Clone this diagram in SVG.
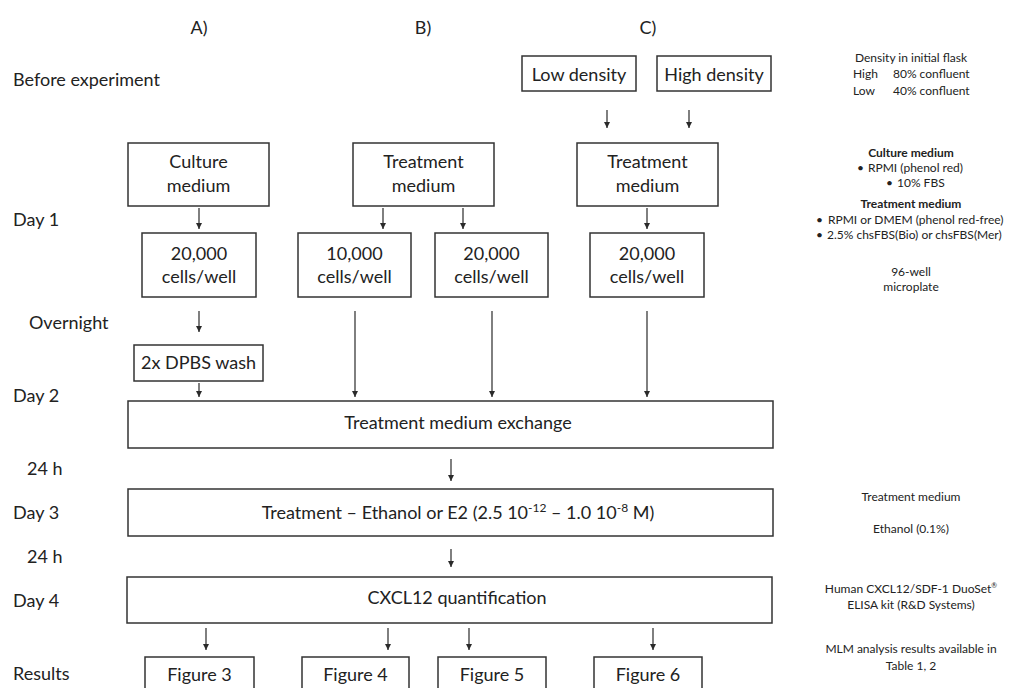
<svg xmlns="http://www.w3.org/2000/svg" width="1009" height="688" viewBox="0 0 1009 688">
<defs>
<marker id="ah" markerUnits="userSpaceOnUse" markerWidth="6" markerHeight="7" refX="6" refY="3" orient="auto">
<path d="M0,0 L6,3 L0,6 z" fill="#2a2a2a"/>
</marker>
<style>
text{font-family:Lato,"Liberation Sans",sans-serif;fill:#222;}
.m{font-size:18px;}
.c{text-anchor:middle;}
.n{font-size:12px;}
.b{font-weight:bold;}
rect{fill:#fff;stroke:#333;stroke-width:1.5;}
#connectors line{stroke:#2a2a2a;stroke-width:1.2;marker-end:url(#ah);}
</style>
</defs>
<rect x="0" y="0" width="1009" height="688" style="fill:#fff;stroke:none"/>

<g id="labels">
<text class="m c" x="199" y="34">A)</text>
<text class="m c" x="423" y="34">B)</text>
<text class="m c" x="648" y="34">C)</text>
<text class="m" x="13" y="86">Before experiment</text>
<text class="m" x="13" y="226">Day 1</text>
<text class="m" x="29" y="329">Overnight</text>
<text class="m" x="13" y="402">Day 2</text>
<text class="m" x="27" y="475">24 h</text>
<text class="m" x="13" y="519">Day 3</text>
<text class="m" x="27" y="563">24 h</text>
<text class="m" x="13" y="607">Day 4</text>
<text class="m" x="13" y="680">Results</text>
</g>

<g id="low-density"><rect x="522" y="56" width="114" height="35"/><text class="m c" x="579" y="81">Low density</text></g>
<g id="high-density"><rect x="657" y="56" width="114" height="35"/><text class="m c" x="714" y="81">High density</text></g>

<g id="culture-medium-a"><rect x="128" y="143" width="141" height="63"/><text class="m c" x="198.5" y="168">Culture</text><text class="m c" x="198.5" y="192">medium</text></g>
<g id="treatment-medium-b"><rect x="353" y="143" width="141" height="63"/><text class="m c" x="423.5" y="168">Treatment</text><text class="m c" x="423.5" y="192">medium</text></g>
<g id="treatment-medium-c"><rect x="577" y="143" width="141" height="63"/><text class="m c" x="647.5" y="168">Treatment</text><text class="m c" x="647.5" y="192">medium</text></g>

<g id="cells-a"><rect x="142" y="233" width="114" height="64"/><text class="m c" x="199" y="260">20,000</text><text class="m c" x="199" y="283">cells/well</text></g>
<g id="cells-b1"><rect x="298" y="233" width="113" height="64"/><text class="m c" x="354.5" y="260">10,000</text><text class="m c" x="354.5" y="283">cells/well</text></g>
<g id="cells-b2"><rect x="435" y="233" width="113" height="64"/><text class="m c" x="491.5" y="260">20,000</text><text class="m c" x="491.5" y="283">cells/well</text></g>
<g id="cells-c"><rect x="590" y="233" width="114" height="64"/><text class="m c" x="647" y="260">20,000</text><text class="m c" x="647" y="283">cells/well</text></g>

<g id="dpbs-wash"><rect x="134" y="345" width="129" height="36"/><text class="m c" x="198.5" y="369">2x DPBS wash</text></g>

<g id="medium-exchange"><rect x="128" y="401" width="645" height="47"/><text class="m c" x="458" y="429">Treatment medium exchange</text></g>
<g id="treatment"><rect x="128" y="489" width="645" height="47"/><text class="m c" x="458" y="519">Treatment – Ethanol or E2 (2.5 10<tspan font-size="12" dy="-7">-12</tspan><tspan dy="7"> – 1.0 10</tspan><tspan font-size="12" dy="-7">-8</tspan><tspan dy="7"> M)</tspan></text></g>
<g id="cxcl12-quantification"><rect x="127" y="577" width="645" height="46"/><text class="m c" x="457" y="604">CXCL12 quantification</text></g>

<g id="figure-3"><rect x="145" y="657" width="109" height="40"/><text class="m c" x="199.5" y="681">Figure 3</text></g>
<g id="figure-4"><rect x="302" y="657" width="107" height="40"/><text class="m c" x="355.5" y="681">Figure 4</text></g>
<g id="figure-5"><rect x="438" y="657" width="108" height="40"/><text class="m c" x="492" y="681">Figure 5</text></g>
<g id="figure-6"><rect x="594" y="657" width="108" height="40"/><text class="m c" x="648" y="681">Figure 6</text></g>

<g id="notes">
<text class="n c" x="911" y="62">Density in initial flask</text>
<text class="n" x="853" y="78">High</text><text class="n" x="893" y="78">80% confluent</text>
<text class="n" x="853" y="95">Low</text><text class="n" x="893" y="95">40% confluent</text>
<text class="n c b" x="911" y="157">Culture medium</text>
<text class="n" x="857" y="172">•</text><text class="n" x="868" y="172">RPMI (phenol red)</text>
<text class="n" x="886" y="187">•</text><text class="n" x="897" y="187">10% FBS</text>
<text class="n c b" x="911" y="208">Treatment medium</text>
<text class="n" x="816" y="224">•</text><text class="n" x="828" y="224">RPMI or DMEM (phenol red-free)</text>
<text class="n" x="816" y="239">•</text><text class="n" x="827" y="239">2.5% chsFBS(Bio) or chsFBS(Mer)</text>
<text class="n c" x="911" y="276">96-well</text>
<text class="n c" x="911" y="291">microplate</text>
<text class="n c" x="911" y="501">Treatment medium</text>
<text class="n c" x="911" y="533">Ethanol (0.1%)</text>
<text class="n c" x="911" y="593">Human CXCL12/SDF-1 DuoSet<tspan font-size="7" dy="-5">®</tspan></text>
<text class="n c" x="911" y="609">ELISA kit (R&amp;D Systems)</text>
<text class="n c" x="911" y="653">MLM analysis results available in</text>
<text class="n c" x="911" y="670">Table 1, 2</text>
</g>

<g id="connectors">
<line x1="607" y1="110" x2="607" y2="128"/>
<line x1="689" y1="110" x2="689" y2="128"/>
<line x1="199" y1="208" x2="199" y2="229"/>
<line x1="383" y1="208" x2="383" y2="229"/>
<line x1="463" y1="208" x2="463" y2="229"/>
<line x1="647" y1="208" x2="647" y2="229"/>
<line x1="199" y1="311" x2="199" y2="332"/>
<line x1="199" y1="383" x2="199" y2="397"/>
<line x1="355" y1="311" x2="355" y2="397"/>
<line x1="492" y1="311" x2="492" y2="397"/>
<line x1="647" y1="311" x2="647" y2="397"/>
<line x1="451" y1="459" x2="451" y2="481"/>
<line x1="451" y1="549" x2="451" y2="567"/>
<line x1="206" y1="628" x2="206" y2="650"/>
<line x1="388" y1="628" x2="388" y2="650"/>
<line x1="469" y1="628" x2="469" y2="650"/>
<line x1="653" y1="628" x2="653" y2="650"/>
</g>
</svg>
